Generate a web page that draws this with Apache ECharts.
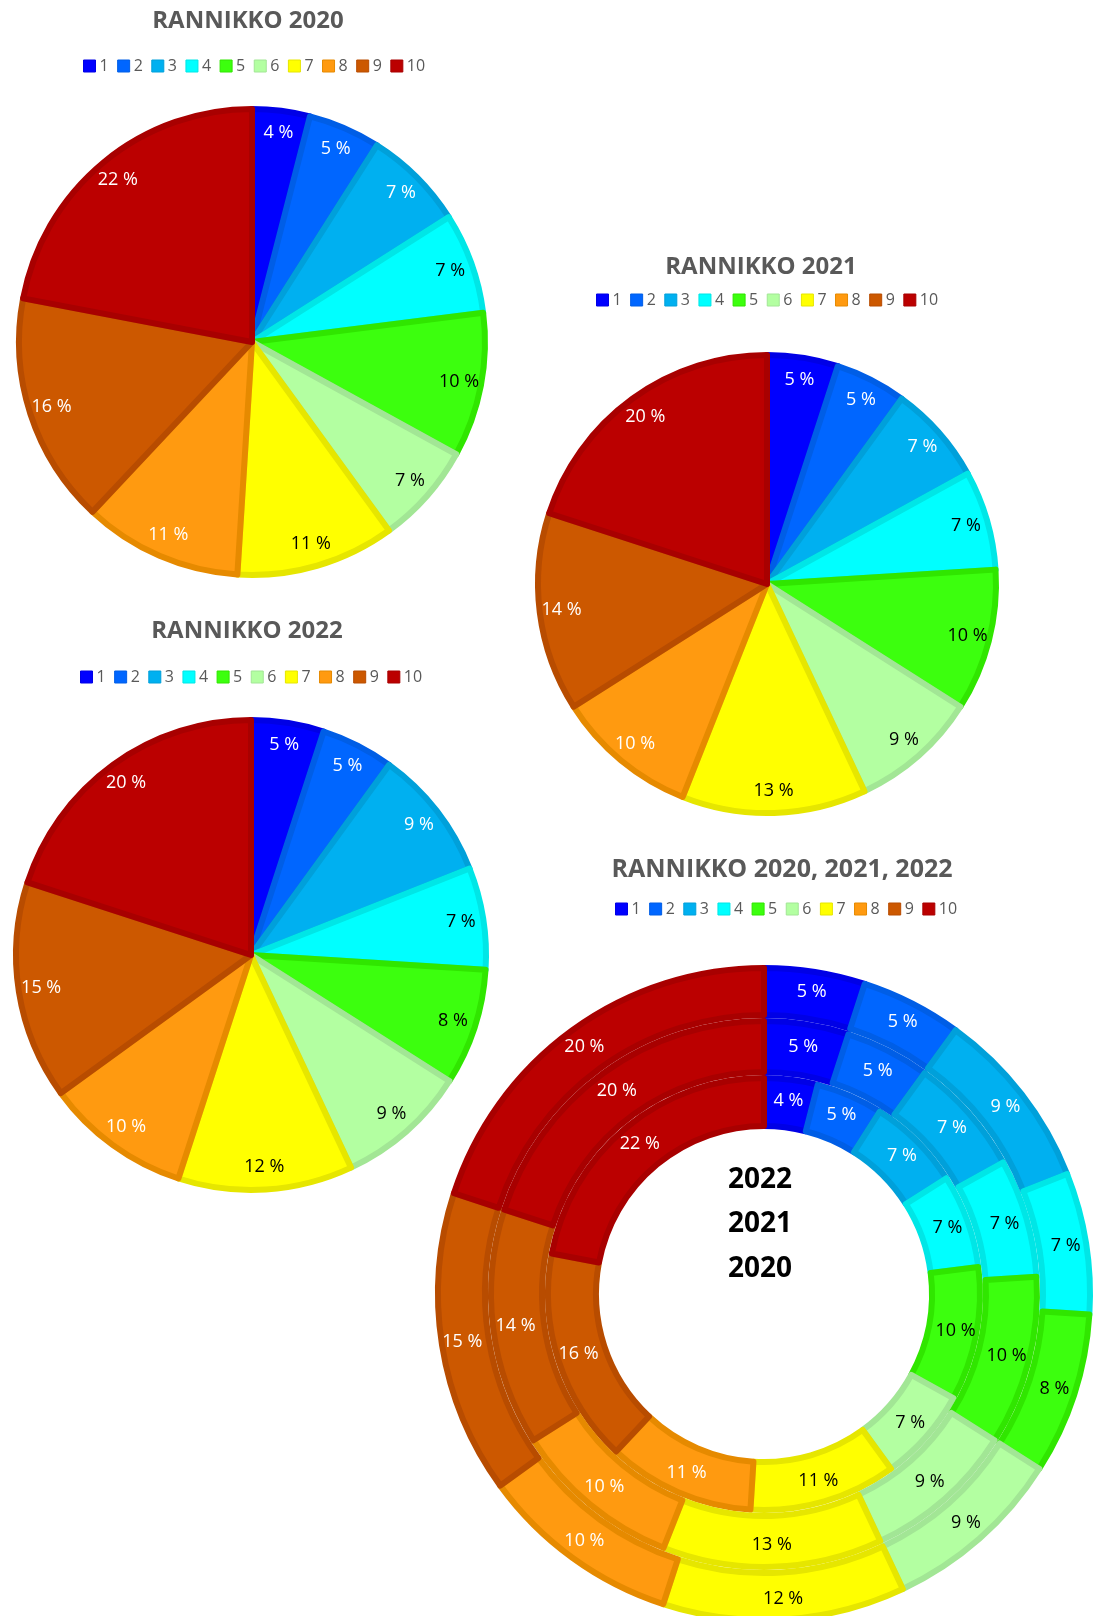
<!DOCTYPE html>
<html>
<head>
<meta charset="utf-8">
<title>Rannikko</title>
<script src="https://cdn.jsdelivr.net/npm/echarts@6/dist/echarts.min.js"></script>
<style>
  html, body { margin: 0; padding: 0; background: #fff; }
  #main { width: 1097px; height: 1616px; }
</style>
</head>
<body>
<div id="main"></div>
<script>
// data
const categories = ['1', '2', '3', '4', '5', '6', '7', '8', '9', '10']
const values2020 = [4, 5, 7, 7, 10, 7, 11, 11, 16, 22]
const values2021 = [5, 5, 7, 7, 10, 9, 13, 10, 14, 20]
const values2022 = [5, 5, 9, 7, 8, 9, 12, 10, 15, 20]
const centerLines = ['2022', '2021', '2020']

// styles
const fillColors = ['#0000ff', '#0066ff', '#00b0f0', '#00ffff', '#3cff0e', '#b3ffa1', '#ffff00', '#ff9a10', '#cc5800', '#bb0000']
const borderColors = ['#0000e6', '#005ee6', '#00a0da', '#00e6e6', '#30e600', '#a2e695', '#e6e600', '#e68a00', '#b84c00', '#a80000']
const labelColors = ['#fff', '#fff', '#fff', '#000', '#000', '#000', '#000', '#fff', '#fff', '#fff']
const font = '"Open Sans", "DejaVu Sans", sans-serif'

function slices(values) {
  return categories.map((name, i) => ({
    name: name,
    value: values[i],
    itemStyle: { color: fillColors[i], borderColor: borderColors[i] },
    label: { color: labelColors[i] }
  }))
}

// pie + transparent ring on top that only carries the labels (Excel puts them near the rim)
function pieSeries(values, cx, cy, r) {
  return [
    {
      type: 'pie',
      center: [cx, cy],
      radius: [0, r - 3],
      data: slices(values),
      itemStyle: { borderWidth: 6 },
      label: { show: false },
      labelLine: { show: false },
      silent: true,
      animation: false
    },
    {
      type: 'pie',
      center: [cx, cy],
      radius: [r * 0.76, r],
      data: slices(values).map((d) => ({ ...d, itemStyle: { color: 'transparent', borderWidth: 0 } })),
      label: { show: true, position: 'inside', formatter: '{c} %', fontSize: 18, fontFamily: font },
      labelLine: { show: false },
      silent: true,
      animation: false
    }
  ]
}

function ringSeries(values, cx, cy, r0, r1) {
  return {
    type: 'pie',
    center: [cx, cy],
    radius: [r0, r1],
    data: slices(values),
    itemStyle: { borderWidth: 6 },
    label: { show: true, position: 'inside', formatter: '{c} %', fontSize: 18, fontFamily: font },
    labelLine: { show: false },
    silent: true,
    animation: false
  }
}

function titleAt(text, cx, top, size) {
  return {
    text: text,
    left: cx,
    top: top,
    textAlign: 'center',
    padding: 0,
    textStyle: { color: '#595959', fontSize: size || 24, fontWeight: 'bold', fontFamily: font }
  }
}

function legendAt(left, top) {
  return {
    data: categories,
    left: left,
    top: top,
    padding: 0,
    icon: 'rect',
    itemWidth: 12,
    itemHeight: 12,
    itemGap: 8.5,
    itemStyle: { borderWidth: 1 },
    textStyle: { color: '#595959', fontSize: 16, fontFamily: font, padding: [0, 0, 0, -1] },
    selectedMode: false
  }
}

const chart = echarts.init(document.getElementById('main'))

const donutCx = 764
const donutCy = 1294

chart.setOption({
  backgroundColor: '#fff',
  title: [
    titleAt('RANNIKKO 2020', 248, 9),
    titleAt('RANNIKKO 2021', 761, 255),
    titleAt('RANNIKKO 2022', 247, 619),
    titleAt('RANNIKKO 2020, 2021, 2022', 782, 857, 25)
  ],
  legend: [
    legendAt(83, 58),
    legendAt(596, 292),
    legendAt(80, 669),
    legendAt(615, 901)
  ],
  graphic: centerLines.map((t, i) => ({
    type: 'text',
    x: 760,
    y: 1180 + i * 44.5,
    silent: true,
    style: {
      text: t,
      fill: '#000',
      font: 'bold 28px ' + font,
      textAlign: 'center',
      textVerticalAlign: 'middle',
      align: 'center',
      verticalAlign: 'middle'
    }
  })),
  series: [
    ...pieSeries(values2020, 252, 342, 236),
    ...pieSeries(values2021, 767, 584, 232),
    ...pieSeries(values2022, 251, 955, 238),
    ringSeries(values2020, donutCx, donutCy, 168, 216),
    ringSeries(values2021, donutCx, donutCy, 222, 273),
    ringSeries(values2022, donutCx, donutCy, 279, 326)
  ]
})
</script>
</body>
</html>
